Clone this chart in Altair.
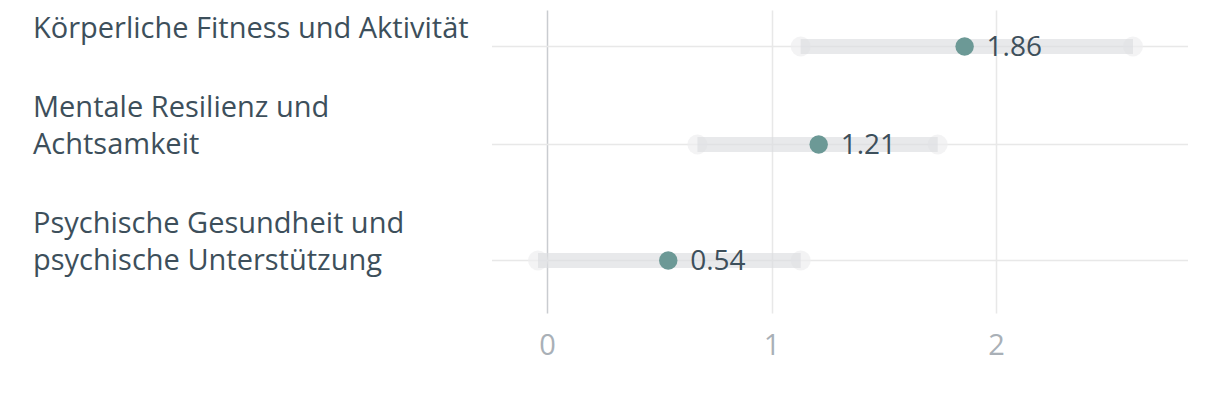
import altair as alt
import pandas as pd

categories = [
    "Körperliche Fitness und Aktivität",
    "Mentale Resilienz und\nAchtsamkeit",
    "Psychische Gesundheit und\npsychische Unterstützung",
]
estimates = [1.86, 1.21, 0.54]
lower = [1.13, 0.67, -0.04]
upper = [2.61, 1.74, 1.13]
x_ticks = [0, 1, 2]

df = pd.DataFrame({
    "category": categories,
    "estimate": estimates,
    "lower": lower,
    "upper": upper,
})
df["label"] = df["estimate"].map(lambda v: f"{v:.2f}")

FONT = "Open Sans"
TEXT = "#3d4f5b"
W, H = 696, 303

xscale = alt.Scale(domain=[-0.245, 2.855], nice=False, zero=False)
yscale = alt.Scale(domain=[3.5, 3.5 + H], reverse=True, nice=False, zero=False)

# row heights grow with the number of label lines
base = (
    alt.Chart(df)
    .transform_calculate(
        nlines="length(split(datum.category, '\\n'))",
        h="44 + 36 * datum.nlines",
    )
    .transform_window(cum="sum(h)", frame=[None, 0])
    .transform_calculate(ypos="datum.cum - datum.h / 2")
)

y_enc = alt.Y("ypos:Q", scale=yscale, axis=None)

grid_color = {"condition": {"test": "datum.value === 0", "value": "#c9ccd0"}, "value": "#e8e8e8"}

hgrid = base.mark_rule(color="#e8e8e8", strokeWidth=1.5).encode(
    x=alt.value(0), x2=alt.value(W), y=y_enc,
)

ends_lo = base.mark_circle(size=400, color="#eeeeef", opacity=0.7).encode(
    x=alt.X("lower:Q", scale=xscale,
            axis=alt.Axis(title=None, values=x_ticks, format="d", grid=True,
                          gridColor=grid_color, gridWidth=1.5,
                          ticks=False, domain=False,
                          labelFontSize=29, labelFont=FONT, labelColor="#a9b0b7",
                          labelPadding=18)),
    y=y_enc,
)
ends_hi = base.mark_circle(size=400, color="#eeeeef", opacity=0.7).encode(
    x=alt.X("upper:Q", scale=xscale), y=y_enc,
)
bar = base.mark_rule(strokeWidth=15, color="#dcdde0", opacity=0.65).encode(
    x=alt.X("lower:Q", scale=xscale), x2="upper:Q", y=y_enc,
)
dots = base.mark_circle(size=340, color="#6c9996", opacity=1).encode(
    x=alt.X("estimate:Q", scale=xscale), y=y_enc,
)
vals = base.mark_text(align="left", baseline="middle", dx=22, dy=1,
                      fontSize=28, font=FONT, color=TEXT).encode(
    x=alt.X("estimate:Q", scale=xscale), y=y_enc, text="label:N",
)
lab1 = base.transform_filter("datum.nlines == 1").mark_text(
    align="left", baseline="middle", dy=-18,
    fontSize=29, font=FONT, color=TEXT).encode(
    x=alt.value(-459), y=y_enc, text="category:N",
)
lab2 = base.transform_filter("datum.nlines > 1").mark_text(
    align="left", baseline="middle", dy=-37,
    lineBreak="\n", lineHeight=37,
    fontSize=29, font=FONT, color=TEXT).encode(
    x=alt.value(-459), y=y_enc, text="category:N",
)

chart = (hgrid + ends_lo + ends_hi + bar + dots + vals + lab1 + lab2).properties(
    width=W, height=H,
    autosize=alt.AutoSizeParams(type="none"),
    padding={"left": 484, "top": 2, "right": 24, "bottom": 85},
).configure_view(stroke=None)

chart.save("out.html", embed_options={"renderer": "svg", "actions": False})
